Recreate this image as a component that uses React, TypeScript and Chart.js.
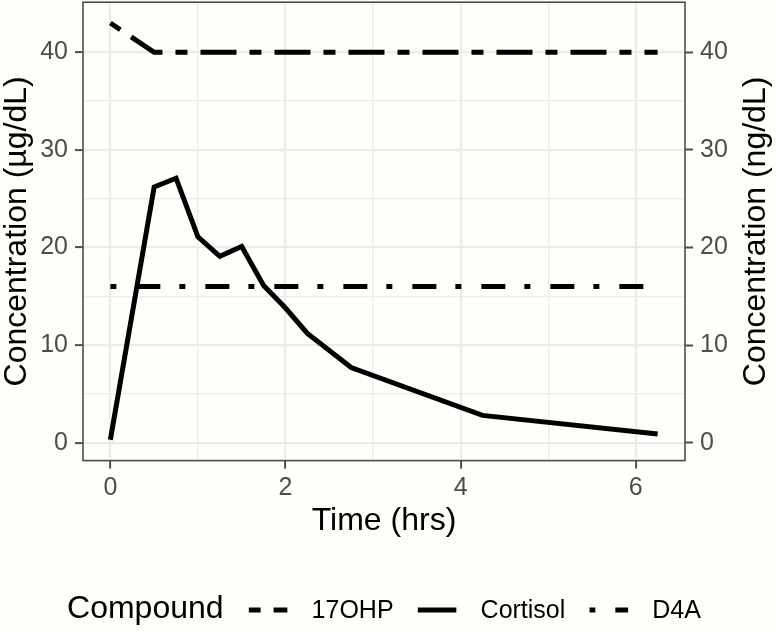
import React, { useEffect, useRef } from "react";
import { Chart, registerables } from "chart.js";

Chart.register(...registerables);

// ---------- data ----------
const cortisolTimes = [0, 0.5, 0.75, 1, 1.25, 1.5, 1.75, 2, 2.25, 2.75, 4.25, 6.25];
const cortisolValues = [0.3, 26.2, 27.1, 21.1, 19.1, 20.1, 16.1, 13.8, 11.2, 7.7, 2.8, 0.9];
const ohpTimes = [0, 0.5, 6.25];
const ohpValues = [43, 40, 40];
const d4aTimes = [0, 6.25];
const d4aValues = [16, 16];

const xTickValues = [0, 1, 2, 3, 4, 5, 6];
const xLabelValues = [0, 2, 4, 6];
const yTickValues = [0, 5, 10, 15, 20, 25, 30, 35, 40];
const yLabelValues = [0, 10, 20, 30, 40];

const seriesNames = ["17OHP", "Cortisol", "D4A"];
const legendTitle = "Compound";
const xTitle = "Time (hrs)";
const yLeftTitle = "Concentration (\u00b5g/dL)";
const yRightTitle = "Concentration (ng/dL)";

// ---------- style ----------
const W = 776;
const H = 631;
const BG = "#FEFEFB";
const FONT = '"Liberation Sans", Arial, Helvetica, sans-serif';
const GRID = "#EBEBEB";
const TICK_TEXT = "#4D4D4D";
const AXIS = "#4D4D4D";
const LW = 5;
const DASH_OHP = [12, 13, 36, 13];
const DASH_D4A = [6, 20, 24, 19];

const PANEL_LEFT = 83;
const PANEL_RIGHT = 685;
const PANEL_TOP = 2.2;
const PANEL_BOTTOM = 460.6;
const LEGEND_H = 60;
const TITLE_SIZE = 32;
const TICK_SIZE = 25;
const LEG_TITLE_SIZE = 32;
const LEG_TEXT_SIZE = 25;

const allY = [...cortisolValues, ...ohpValues, ...d4aValues];
const yLo = Math.min(...allY);
const yHi = Math.max(...allY);
const yPad = (yHi - yLo) * 0.05;
const allX = [...cortisolTimes, ...ohpTimes, ...d4aTimes];
const xLo = Math.min(...allX);
const xHi = Math.max(...allX);
const xPad = (xHi - xLo) * 0.05;

const pts = (xs: number[], ys: number[]) => xs.map((x, i) => ({ x, y: ys[i] }));

const decorPlugin = {
  id: "decor",
  beforeDraw(chart: any) {
    const c = chart.ctx;
    c.save();
    c.fillStyle = BG;
    c.fillRect(0, 0, chart.width, chart.height);
    c.restore();
  },
  afterDatasetsDraw(chart: any) {
    const c = chart.ctx;
    const a = chart.chartArea;
    c.save();
    c.strokeStyle = AXIS;
    c.lineWidth = 1.6;
    c.strokeRect(a.left, a.top, a.right - a.left, a.bottom - a.top);
    c.restore();
  },
  afterDraw(chart: any) {
    const c = chart.ctx;
    const a = chart.chartArea;
    c.save();
    c.fillStyle = "#000";
    c.font = `${TITLE_SIZE}px ${FONT}`;
    c.textAlign = "center";
    c.textBaseline = "alphabetic";
    // x title
    c.fillText(xTitle, (a.left + a.right) / 2, 530);
    // y titles
    const cy = (a.top + a.bottom) / 2;
    c.save();
    c.translate(26, cy);
    c.rotate(-Math.PI / 2);
    c.fillText(yLeftTitle, 0, 0);
    c.restore();
    c.save();
    c.translate(765, cy);
    c.rotate(-Math.PI / 2);
    c.fillText(yRightTitle, 0, 0);
    c.restore();

    // legend
    const titleFont = `${LEG_TITLE_SIZE}px ${FONT}`;
    const itemFont = `${LEG_TEXT_SIZE}px ${FONT}`;
    const keyLen = 39;
    const gapTitle = 25;
    const gapKey = 24;
    const gapItem = 24;
    c.font = titleFont;
    const tw = c.measureText(legendTitle).width;
    c.font = itemFont;
    const ws = seriesNames.map((n) => c.measureText(n).width);
    let total = tw + gapTitle;
    ws.forEach((w, i) => {
      total += keyLen + gapKey + w + (i < ws.length - 1 ? gapItem : 0);
    });
    let x = (a.left + a.right) / 2 - total / 2;
    const base = 618;
    const ky = 610;
    c.textAlign = "left";
    c.textBaseline = "alphabetic";
    c.font = titleFont;
    c.fillText(legendTitle, x, base);
    x += tw + gapTitle;
    const dsets = chart.data.datasets;
    seriesNames.forEach((name, i) => {
      const ds = dsets.find((d: any) => d.label === name);
      c.save();
      c.beginPath();
      c.rect(x, ky - 10, keyLen, 20);
      c.clip();
      c.strokeStyle = "#000";
      c.lineWidth = LW;
      c.lineCap = "butt";
      c.setLineDash(ds.borderDash || []);
      c.beginPath();
      c.moveTo(x, ky);
      c.lineTo(x + keyLen, ky);
      c.stroke();
      c.restore();
      x += keyLen + gapKey;
      c.font = itemFont;
      c.fillStyle = "#000";
      c.fillText(name, x, base);
      x += ws[i] + gapItem;
    });
    c.restore();
  },
};

export default function App() {
  const ref = useRef<HTMLCanvasElement>(null);
  useEffect(() => {
    document.body.style.margin = "0";
    const canvas = ref.current!;
    const tickFont = { family: FONT, size: TICK_SIZE };
    const isMajorX = (v: number) => xLabelValues.includes(v);
    const isMajorY = (v: number) => yLabelValues.includes(v);
    const zeroPad = (s: any) => {
      s.paddingTop = 0;
      s.paddingBottom = 0;
      s.paddingLeft = 0;
      s.paddingRight = 0;
    };
    const common = {
      borderColor: "#000",
      borderWidth: LW,
      pointRadius: 0,
      borderCapStyle: "butt",
      borderJoinStyle: "miter",
      tension: 0,
      fill: false,
    };
    const chart = new Chart(canvas, {
      type: "line",
      data: {
        datasets: [
          { ...common, label: seriesNames[0], data: pts(ohpTimes, ohpValues), borderDash: DASH_OHP },
          { ...common, label: seriesNames[1], data: pts(cortisolTimes, cortisolValues), borderDash: [] },
          { ...common, label: seriesNames[2], data: pts(d4aTimes, d4aValues), borderDash: DASH_D4A },
        ] as any,
      },
      plugins: [decorPlugin],
      options: {
        responsive: false,
        animation: false,
        devicePixelRatio: 1,
        parsing: false as any,
        layout: { padding: { top: PANEL_TOP, bottom: LEGEND_H, left: 0, right: 0 } },
        plugins: { legend: { display: false }, tooltip: { enabled: false }, title: { display: false } },
        scales: {
          x: {
            type: "linear",
            min: xLo - xPad,
            max: xHi + xPad,
            afterBuildTicks: (s: any) => {
              s.ticks = xTickValues.map((v) => ({ value: v }));
            },
            afterFit: (s: any) => {
              s.height = H - LEGEND_H - PANEL_BOTTOM;
              zeroPad(s);
            },
            ticks: {
              callback: (v: any) => (isMajorX(Number(v)) ? String(v) : ""),
              font: tickFont,
              color: TICK_TEXT,
              padding: 5,
              maxRotation: 0,
              autoSkip: false,
            },
            grid: {
              color: GRID,
              lineWidth: (ctx: any) => (isMajorX(ctx.tick?.value) ? 2.2 : 1.3),
              tickColor: (ctx: any) => (isMajorX(ctx.tick?.value) ? AXIS : "rgba(0,0,0,0)"),
              tickLength: 8,
              tickWidth: 2,
            },
            border: { display: false },
          },
          y: {
            type: "linear",
            position: "left",
            min: yLo - yPad,
            max: yHi + yPad,
            afterBuildTicks: (s: any) => {
              s.ticks = yTickValues.map((v) => ({ value: v }));
            },
            afterFit: (s: any) => {
              s.width = PANEL_LEFT;
              zeroPad(s);
            },
            ticks: {
              callback: (v: any) => (isMajorY(Number(v)) ? String(v) : ""),
              font: tickFont,
              color: TICK_TEXT,
              padding: 7,
              autoSkip: false,
            },
            grid: {
              color: GRID,
              lineWidth: (ctx: any) => (isMajorY(ctx.tick?.value) ? 2.2 : 1.3),
              tickColor: (ctx: any) => (isMajorY(ctx.tick?.value) ? AXIS : "rgba(0,0,0,0)"),
              tickLength: 8,
              tickWidth: 2,
            },
            border: { display: false },
          },
          y2: {
            type: "linear",
            position: "right",
            min: yLo - yPad,
            max: yHi + yPad,
            afterBuildTicks: (s: any) => {
              s.ticks = yTickValues.map((v) => ({ value: v }));
            },
            afterFit: (s: any) => {
              s.width = W - PANEL_RIGHT;
              zeroPad(s);
            },
            ticks: {
              callback: (v: any) => (isMajorY(Number(v)) ? String(v) : ""),
              font: tickFont,
              color: TICK_TEXT,
              padding: 7,
              autoSkip: false,
            },
            grid: {
              drawOnChartArea: false,
              tickColor: (ctx: any) => (isMajorY(ctx.tick?.value) ? AXIS : "rgba(0,0,0,0)"),
              tickLength: 8,
              tickWidth: 2,
            },
            border: { display: false },
          },
        },
      } as any,
    });
    return () => chart.destroy();
  }, []);
  return (
    <div style={{ width: W, height: H, background: BG }}>
      <canvas ref={ref} width={W} height={H} style={{ display: "block" }} />
    </div>
  );
}
